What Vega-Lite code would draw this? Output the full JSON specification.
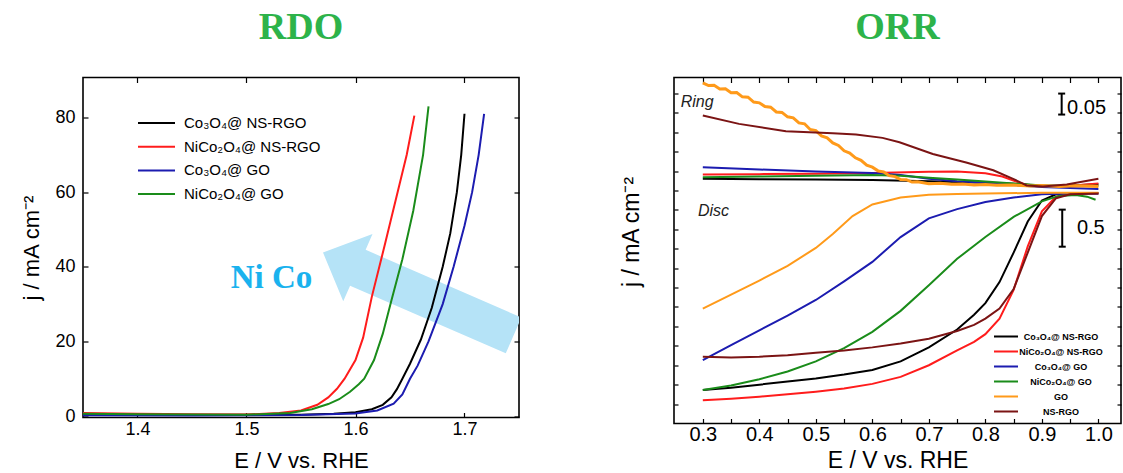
{
  "$schema": "https://vega.github.io/schema/vega-lite/v6.json",
  "background": "white",
  "padding": {"left": 20, "top": 7.5, "right": 0, "bottom": 0},
  "spacing": 98,
  "config": {
    "font": "Liberation Sans",
    "view": {"stroke": "black", "strokeWidth": 1.6},
    "axis": {"domain": false, "grid": false, "tickColor": "black", "tickWidth": 1.2, "labelColor": "black", "titleColor": "black", "labelFont": "Liberation Sans", "titleFont": "Liberation Sans", "titleFontWeight": "normal"},
    "title": {"font": "Liberation Serif", "fontWeight": "bold", "fontSize": 38, "color": "#2db34a", "anchor": "middle", "baseline": "alphabetic"}
  },
  "resolve": {"scale": {"color": "independent"}, "legend": {"color": "independent"}},
  "hconcat": [
    {
      "width": 436,
      "height": 340,
      "title": {"text": "RDO", "offset": 30},
      "resolve": {"axis": {"x": "independent", "y": "independent"}},
      "layer": [
        {
          "data": {"values": [{"x": 1.6576, "y": 32.7}]},
          "mark": {"type": "point", "shape": "M-1,0L-0.634,-0.353L-0.634,-0.188L1,-0.188L1,0.188L-0.634,0.188L-0.634,0.353Z", "size": 43181, "angle": 23.5, "filled": true, "fill": "#b5e3f7", "opacity": 1, "strokeWidth": 0, "clip": true},
          "encoding": {
            "x": {"field": "x", "type": "quantitative", "scale": {"domain": [1.35, 1.75], "nice": false, "zero": false}, "axis": {"orient": "top", "values": [1.4, 1.5, 1.6, 1.7], "labels": false, "tickSize": -5, "title": null}},
            "y": {"field": "y", "type": "quantitative", "scale": {"domain": [-0.4, 90.72], "nice": false, "zero": false}, "axis": {"orient": "right", "values": [0, 20, 40, 60, 80], "labels": false, "tickSize": -5, "title": null}}
          }
        },
        {
          "data": {"values": [
            {"s": "Co₃O₄@ NS-RGO", "x": 1.35, "y": 0.3}, {"s": "Co₃O₄@ NS-RGO", "x": 1.45, "y": 0.25}, {"s": "Co₃O₄@ NS-RGO", "x": 1.55, "y": 0.35}, {"s": "Co₃O₄@ NS-RGO", "x": 1.58, "y": 0.6}, {"s": "Co₃O₄@ NS-RGO", "x": 1.6, "y": 1.0}, {"s": "Co₃O₄@ NS-RGO", "x": 1.615, "y": 1.8}, {"s": "Co₃O₄@ NS-RGO", "x": 1.625, "y": 3.0}, {"s": "Co₃O₄@ NS-RGO", "x": 1.633, "y": 5.0}, {"s": "Co₃O₄@ NS-RGO", "x": 1.638, "y": 7.2}, {"s": "Co₃O₄@ NS-RGO", "x": 1.643, "y": 10}, {"s": "Co₃O₄@ NS-RGO", "x": 1.65, "y": 14}, {"s": "Co₃O₄@ NS-RGO", "x": 1.66, "y": 20.5}, {"s": "Co₃O₄@ NS-RGO", "x": 1.67, "y": 29}, {"s": "Co₃O₄@ NS-RGO", "x": 1.68, "y": 40}, {"s": "Co₃O₄@ NS-RGO", "x": 1.687, "y": 49}, {"s": "Co₃O₄@ NS-RGO", "x": 1.693, "y": 60}, {"s": "Co₃O₄@ NS-RGO", "x": 1.697, "y": 70}, {"s": "Co₃O₄@ NS-RGO", "x": 1.7, "y": 81},
            {"s": "NiCo₂O₄@ NS-RGO", "x": 1.35, "y": 0.8}, {"s": "NiCo₂O₄@ NS-RGO", "x": 1.4, "y": 0.6}, {"s": "NiCo₂O₄@ NS-RGO", "x": 1.45, "y": 0.5}, {"s": "NiCo₂O₄@ NS-RGO", "x": 1.5, "y": 0.4}, {"s": "NiCo₂O₄@ NS-RGO", "x": 1.53, "y": 0.8}, {"s": "NiCo₂O₄@ NS-RGO", "x": 1.55, "y": 1.5}, {"s": "NiCo₂O₄@ NS-RGO", "x": 1.565, "y": 3.0}, {"s": "NiCo₂O₄@ NS-RGO", "x": 1.575, "y": 5.0}, {"s": "NiCo₂O₄@ NS-RGO", "x": 1.583, "y": 7.3}, {"s": "NiCo₂O₄@ NS-RGO", "x": 1.59, "y": 10}, {"s": "NiCo₂O₄@ NS-RGO", "x": 1.6, "y": 15}, {"s": "NiCo₂O₄@ NS-RGO", "x": 1.607, "y": 21}, {"s": "NiCo₂O₄@ NS-RGO", "x": 1.615, "y": 32}, {"s": "NiCo₂O₄@ NS-RGO", "x": 1.627, "y": 46}, {"s": "NiCo₂O₄@ NS-RGO", "x": 1.637, "y": 58}, {"s": "NiCo₂O₄@ NS-RGO", "x": 1.647, "y": 70}, {"s": "NiCo₂O₄@ NS-RGO", "x": 1.654, "y": 80.5},
            {"s": "Co₃O₄@ GO", "x": 1.35, "y": 0.2}, {"s": "Co₃O₄@ GO", "x": 1.45, "y": 0.15}, {"s": "Co₃O₄@ GO", "x": 1.55, "y": 0.25}, {"s": "Co₃O₄@ GO", "x": 1.6, "y": 0.7}, {"s": "Co₃O₄@ GO", "x": 1.62, "y": 1.5}, {"s": "Co₃O₄@ GO", "x": 1.635, "y": 3.3}, {"s": "Co₃O₄@ GO", "x": 1.643, "y": 5.8}, {"s": "Co₃O₄@ GO", "x": 1.65, "y": 10}, {"s": "Co₃O₄@ GO", "x": 1.657, "y": 13.5}, {"s": "Co₃O₄@ GO", "x": 1.667, "y": 20}, {"s": "Co₃O₄@ GO", "x": 1.68, "y": 30}, {"s": "Co₃O₄@ GO", "x": 1.69, "y": 40}, {"s": "Co₃O₄@ GO", "x": 1.7, "y": 51}, {"s": "Co₃O₄@ GO", "x": 1.707, "y": 60}, {"s": "Co₃O₄@ GO", "x": 1.713, "y": 70}, {"s": "Co₃O₄@ GO", "x": 1.718, "y": 81},
            {"s": "NiCo₂O₄@ GO", "x": 1.35, "y": 0.6}, {"s": "NiCo₂O₄@ GO", "x": 1.4, "y": 0.5}, {"s": "NiCo₂O₄@ GO", "x": 1.45, "y": 0.4}, {"s": "NiCo₂O₄@ GO", "x": 1.5, "y": 0.35}, {"s": "NiCo₂O₄@ GO", "x": 1.54, "y": 0.8}, {"s": "NiCo₂O₄@ GO", "x": 1.56, "y": 1.8}, {"s": "NiCo₂O₄@ GO", "x": 1.575, "y": 3.2}, {"s": "NiCo₂O₄@ GO", "x": 1.585, "y": 4.5}, {"s": "NiCo₂O₄@ GO", "x": 1.595, "y": 6.5}, {"s": "NiCo₂O₄@ GO", "x": 1.603, "y": 8.5}, {"s": "NiCo₂O₄@ GO", "x": 1.608, "y": 10}, {"s": "NiCo₂O₄@ GO", "x": 1.617, "y": 15}, {"s": "NiCo₂O₄@ GO", "x": 1.625, "y": 22}, {"s": "NiCo₂O₄@ GO", "x": 1.633, "y": 31}, {"s": "NiCo₂O₄@ GO", "x": 1.643, "y": 42}, {"s": "NiCo₂O₄@ GO", "x": 1.653, "y": 55}, {"s": "NiCo₂O₄@ GO", "x": 1.662, "y": 70}, {"s": "NiCo₂O₄@ GO", "x": 1.667, "y": 83}
          ]},
          "mark": {"type": "line", "strokeWidth": 2, "clip": true},
          "encoding": {
            "x": {"field": "x", "type": "quantitative", "axis": {"orient": "bottom", "values": [1.4, 1.5, 1.6, 1.7], "format": ".1f", "labelFontSize": 18, "tickSize": -5, "labelPadding": 7.5, "title": "E / V vs. RHE", "titleFontSize": 22, "titlePadding": 12}},
            "y": {"field": "y", "type": "quantitative", "axis": {"orient": "left", "values": [0, 20, 40, 60, 80], "labelFontSize": 18, "tickSize": -5, "labelPadding": 13, "title": "j / mA cm⁻²", "titleFontSize": 22, "titlePadding": 11}},
            "color": {"field": "s", "type": "nominal", "scale": {"domain": ["Co₃O₄@ NS-RGO", "NiCo₂O₄@ NS-RGO", "Co₃O₄@ GO", "NiCo₂O₄@ GO"], "range": ["#000000", "#ff1c1c", "#1c1cb0", "#1a8c1a"]},
              "legend": {"orient": "none", "legendX": 54, "legendY": 37.5, "title": null, "padding": 0, "labelFontSize": 15, "symbolType": "stroke", "symbolSize": 1369, "symbolStrokeWidth": 2, "clipHeight": 16, "rowPadding": 7.7, "labelOffset": 8, "labelExpr": "indexof(datum.label, 'Ni') == 0 ? datum.label : (indexof(datum.label, 'NS') > 0 ? '\u2002\u2002' + datum.label : '\u2002\u2002\u2009' + datum.label)"}}
          }
        },
        {
          "mark": {"type": "rule", "color": "black", "strokeWidth": 1, "strokeDash": [2, 2]},
          "encoding": {"y": {"datum": 10, "type": "quantitative", "axis": null}}
        },
        {
          "data": {"values": [{"x": 1.523, "y": 34.4, "t": "Ni Co"}]},
          "mark": {"type": "text", "font": "Liberation Serif", "fontWeight": "bold", "fontSize": 33, "color": "#1ab2ee", "align": "center", "baseline": "alphabetic"},
          "encoding": {
            "x": {"field": "x", "type": "quantitative", "axis": null},
            "y": {"field": "y", "type": "quantitative", "axis": null},
            "text": {"field": "t"}
          }
        }
      ]
    },
    {
      "width": 447,
      "height": 346,
      "title": {"text": "ORR", "offset": 30},
      "resolve": {"axis": {"x": "independent", "y": "independent"}},
      "layer": [
        {
          "data": {"values": [
            {"s": "Co₃O₄@ NS-RGO", "p": "disc", "x": 0.3, "y": -2.57}, {"s": "Co₃O₄@ NS-RGO", "p": "disc", "x": 0.35, "y": -2.54}, {"s": "Co₃O₄@ NS-RGO", "p": "disc", "x": 0.4, "y": -2.5}, {"s": "Co₃O₄@ NS-RGO", "p": "disc", "x": 0.45, "y": -2.46}, {"s": "Co₃O₄@ NS-RGO", "p": "disc", "x": 0.5, "y": -2.42}, {"s": "Co₃O₄@ NS-RGO", "p": "disc", "x": 0.55, "y": -2.37}, {"s": "Co₃O₄@ NS-RGO", "p": "disc", "x": 0.6, "y": -2.31}, {"s": "Co₃O₄@ NS-RGO", "p": "disc", "x": 0.65, "y": -2.2}, {"s": "Co₃O₄@ NS-RGO", "p": "disc", "x": 0.7, "y": -2.02}, {"s": "Co₃O₄@ NS-RGO", "p": "disc", "x": 0.75, "y": -1.79}, {"s": "Co₃O₄@ NS-RGO", "p": "disc", "x": 0.78, "y": -1.6}, {"s": "Co₃O₄@ NS-RGO", "p": "disc", "x": 0.8, "y": -1.45}, {"s": "Co₃O₄@ NS-RGO", "p": "disc", "x": 0.825, "y": -1.18}, {"s": "Co₃O₄@ NS-RGO", "p": "disc", "x": 0.85, "y": -0.8}, {"s": "Co₃O₄@ NS-RGO", "p": "disc", "x": 0.875, "y": -0.4}, {"s": "Co₃O₄@ NS-RGO", "p": "disc", "x": 0.9, "y": -0.13}, {"s": "Co₃O₄@ NS-RGO", "p": "disc", "x": 0.925, "y": -0.05}, {"s": "Co₃O₄@ NS-RGO", "p": "disc", "x": 0.95, "y": -0.035}, {"s": "Co₃O₄@ NS-RGO", "p": "disc", "x": 1.0, "y": -0.035},
            {"s": "NiCo₂O₄@ NS-RGO", "p": "disc", "x": 0.3, "y": -2.7}, {"s": "NiCo₂O₄@ NS-RGO", "p": "disc", "x": 0.35, "y": -2.68}, {"s": "NiCo₂O₄@ NS-RGO", "p": "disc", "x": 0.4, "y": -2.655}, {"s": "NiCo₂O₄@ NS-RGO", "p": "disc", "x": 0.45, "y": -2.625}, {"s": "NiCo₂O₄@ NS-RGO", "p": "disc", "x": 0.5, "y": -2.59}, {"s": "NiCo₂O₄@ NS-RGO", "p": "disc", "x": 0.55, "y": -2.55}, {"s": "NiCo₂O₄@ NS-RGO", "p": "disc", "x": 0.6, "y": -2.49}, {"s": "NiCo₂O₄@ NS-RGO", "p": "disc", "x": 0.65, "y": -2.4}, {"s": "NiCo₂O₄@ NS-RGO", "p": "disc", "x": 0.7, "y": -2.25}, {"s": "NiCo₂O₄@ NS-RGO", "p": "disc", "x": 0.75, "y": -2.06}, {"s": "NiCo₂O₄@ NS-RGO", "p": "disc", "x": 0.78, "y": -1.95}, {"s": "NiCo₂O₄@ NS-RGO", "p": "disc", "x": 0.8, "y": -1.85}, {"s": "NiCo₂O₄@ NS-RGO", "p": "disc", "x": 0.825, "y": -1.65}, {"s": "NiCo₂O₄@ NS-RGO", "p": "disc", "x": 0.85, "y": -1.28}, {"s": "NiCo₂O₄@ NS-RGO", "p": "disc", "x": 0.875, "y": -0.72}, {"s": "NiCo₂O₄@ NS-RGO", "p": "disc", "x": 0.9, "y": -0.27}, {"s": "NiCo₂O₄@ NS-RGO", "p": "disc", "x": 0.925, "y": -0.08}, {"s": "NiCo₂O₄@ NS-RGO", "p": "disc", "x": 0.95, "y": -0.04}, {"s": "NiCo₂O₄@ NS-RGO", "p": "disc", "x": 1.0, "y": -0.035},
            {"s": "Co₃O₄@ GO", "p": "disc", "x": 0.3, "y": -2.185}, {"s": "Co₃O₄@ GO", "p": "disc", "x": 0.35, "y": -1.99}, {"s": "Co₃O₄@ GO", "p": "disc", "x": 0.4, "y": -1.8}, {"s": "Co₃O₄@ GO", "p": "disc", "x": 0.45, "y": -1.61}, {"s": "Co₃O₄@ GO", "p": "disc", "x": 0.5, "y": -1.41}, {"s": "Co₃O₄@ GO", "p": "disc", "x": 0.55, "y": -1.17}, {"s": "Co₃O₄@ GO", "p": "disc", "x": 0.6, "y": -0.92}, {"s": "Co₃O₄@ GO", "p": "disc", "x": 0.65, "y": -0.6}, {"s": "Co₃O₄@ GO", "p": "disc", "x": 0.7, "y": -0.36}, {"s": "Co₃O₄@ GO", "p": "disc", "x": 0.75, "y": -0.24}, {"s": "Co₃O₄@ GO", "p": "disc", "x": 0.8, "y": -0.15}, {"s": "Co₃O₄@ GO", "p": "disc", "x": 0.85, "y": -0.09}, {"s": "Co₃O₄@ GO", "p": "disc", "x": 0.9, "y": -0.05}, {"s": "Co₃O₄@ GO", "p": "disc", "x": 0.95, "y": -0.04}, {"s": "Co₃O₄@ GO", "p": "disc", "x": 1.0, "y": -0.04},
            {"s": "NiCo₂O₄@ GO", "p": "disc", "x": 0.3, "y": -2.57}, {"s": "NiCo₂O₄@ GO", "p": "disc", "x": 0.35, "y": -2.51}, {"s": "NiCo₂O₄@ GO", "p": "disc", "x": 0.4, "y": -2.43}, {"s": "NiCo₂O₄@ GO", "p": "disc", "x": 0.45, "y": -2.33}, {"s": "NiCo₂O₄@ GO", "p": "disc", "x": 0.5, "y": -2.2}, {"s": "NiCo₂O₄@ GO", "p": "disc", "x": 0.55, "y": -2.03}, {"s": "NiCo₂O₄@ GO", "p": "disc", "x": 0.6, "y": -1.82}, {"s": "NiCo₂O₄@ GO", "p": "disc", "x": 0.65, "y": -1.55}, {"s": "NiCo₂O₄@ GO", "p": "disc", "x": 0.7, "y": -1.22}, {"s": "NiCo₂O₄@ GO", "p": "disc", "x": 0.75, "y": -0.88}, {"s": "NiCo₂O₄@ GO", "p": "disc", "x": 0.8, "y": -0.6}, {"s": "NiCo₂O₄@ GO", "p": "disc", "x": 0.85, "y": -0.34}, {"s": "NiCo₂O₄@ GO", "p": "disc", "x": 0.9, "y": -0.14}, {"s": "NiCo₂O₄@ GO", "p": "disc", "x": 0.93, "y": -0.07}, {"s": "NiCo₂O₄@ GO", "p": "disc", "x": 0.96, "y": -0.06}, {"s": "NiCo₂O₄@ GO", "p": "disc", "x": 0.98, "y": -0.08}, {"s": "NiCo₂O₄@ GO", "p": "disc", "x": 0.995, "y": -0.12},
            {"s": "GO", "p": "disc", "x": 0.3, "y": -1.52}, {"s": "GO", "p": "disc", "x": 0.35, "y": -1.34}, {"s": "GO", "p": "disc", "x": 0.4, "y": -1.16}, {"s": "GO", "p": "disc", "x": 0.45, "y": -0.97}, {"s": "GO", "p": "disc", "x": 0.5, "y": -0.74}, {"s": "GO", "p": "disc", "x": 0.53, "y": -0.56}, {"s": "GO", "p": "disc", "x": 0.565, "y": -0.33}, {"s": "GO", "p": "disc", "x": 0.6, "y": -0.18}, {"s": "GO", "p": "disc", "x": 0.65, "y": -0.09}, {"s": "GO", "p": "disc", "x": 0.7, "y": -0.055}, {"s": "GO", "p": "disc", "x": 0.75, "y": -0.045}, {"s": "GO", "p": "disc", "x": 0.8, "y": -0.04}, {"s": "GO", "p": "disc", "x": 0.9, "y": -0.03}, {"s": "GO", "p": "disc", "x": 1.0, "y": -0.03},
            {"s": "NS-RGO", "p": "disc", "x": 0.3, "y": -2.14}, {"s": "NS-RGO", "p": "disc", "x": 0.35, "y": -2.15}, {"s": "NS-RGO", "p": "disc", "x": 0.4, "y": -2.14}, {"s": "NS-RGO", "p": "disc", "x": 0.45, "y": -2.12}, {"s": "NS-RGO", "p": "disc", "x": 0.5, "y": -2.09}, {"s": "NS-RGO", "p": "disc", "x": 0.55, "y": -2.06}, {"s": "NS-RGO", "p": "disc", "x": 0.6, "y": -2.02}, {"s": "NS-RGO", "p": "disc", "x": 0.65, "y": -1.97}, {"s": "NS-RGO", "p": "disc", "x": 0.7, "y": -1.91}, {"s": "NS-RGO", "p": "disc", "x": 0.75, "y": -1.81}, {"s": "NS-RGO", "p": "disc", "x": 0.78, "y": -1.73}, {"s": "NS-RGO", "p": "disc", "x": 0.8, "y": -1.65}, {"s": "NS-RGO", "p": "disc", "x": 0.825, "y": -1.52}, {"s": "NS-RGO", "p": "disc", "x": 0.85, "y": -1.27}, {"s": "NS-RGO", "p": "disc", "x": 0.875, "y": -0.8}, {"s": "NS-RGO", "p": "disc", "x": 0.9, "y": -0.33}, {"s": "NS-RGO", "p": "disc", "x": 0.925, "y": -0.1}, {"s": "NS-RGO", "p": "disc", "x": 0.95, "y": -0.05}, {"s": "NS-RGO", "p": "disc", "x": 1.0, "y": -0.04},
            {"s": "Co₃O₄@ NS-RGO", "p": "ring", "x": 0.3, "y": 0.15}, {"s": "Co₃O₄@ NS-RGO", "p": "ring", "x": 0.4, "y": 0.145}, {"s": "Co₃O₄@ NS-RGO", "p": "ring", "x": 0.5, "y": 0.14}, {"s": "Co₃O₄@ NS-RGO", "p": "ring", "x": 0.6, "y": 0.135}, {"s": "Co₃O₄@ NS-RGO", "p": "ring", "x": 0.7, "y": 0.12}, {"s": "Co₃O₄@ NS-RGO", "p": "ring", "x": 0.8, "y": 0.1}, {"s": "Co₃O₄@ NS-RGO", "p": "ring", "x": 0.85, "y": 0.085}, {"s": "Co₃O₄@ NS-RGO", "p": "ring", "x": 0.9, "y": 0.06}, {"s": "Co₃O₄@ NS-RGO", "p": "ring", "x": 0.95, "y": 0.065}, {"s": "Co₃O₄@ NS-RGO", "p": "ring", "x": 1.0, "y": 0.08},
            {"s": "NiCo₂O₄@ NS-RGO", "p": "ring", "x": 0.3, "y": 0.205}, {"s": "NiCo₂O₄@ NS-RGO", "p": "ring", "x": 0.4, "y": 0.21}, {"s": "NiCo₂O₄@ NS-RGO", "p": "ring", "x": 0.5, "y": 0.215}, {"s": "NiCo₂O₄@ NS-RGO", "p": "ring", "x": 0.6, "y": 0.225}, {"s": "NiCo₂O₄@ NS-RGO", "p": "ring", "x": 0.7, "y": 0.24}, {"s": "NiCo₂O₄@ NS-RGO", "p": "ring", "x": 0.75, "y": 0.245}, {"s": "NiCo₂O₄@ NS-RGO", "p": "ring", "x": 0.8, "y": 0.22}, {"s": "NiCo₂O₄@ NS-RGO", "p": "ring", "x": 0.83, "y": 0.18}, {"s": "NiCo₂O₄@ NS-RGO", "p": "ring", "x": 0.86, "y": 0.1}, {"s": "NiCo₂O₄@ NS-RGO", "p": "ring", "x": 0.88, "y": 0.06}, {"s": "NiCo₂O₄@ NS-RGO", "p": "ring", "x": 0.9, "y": 0.05}, {"s": "NiCo₂O₄@ NS-RGO", "p": "ring", "x": 0.95, "y": 0.06}, {"s": "NiCo₂O₄@ NS-RGO", "p": "ring", "x": 1.0, "y": 0.09},
            {"s": "Co₃O₄@ GO", "p": "ring", "x": 0.3, "y": 0.3}, {"s": "Co₃O₄@ GO", "p": "ring", "x": 0.4, "y": 0.27}, {"s": "Co₃O₄@ GO", "p": "ring", "x": 0.5, "y": 0.245}, {"s": "Co₃O₄@ GO", "p": "ring", "x": 0.6, "y": 0.225}, {"s": "Co₃O₄@ GO", "p": "ring", "x": 0.65, "y": 0.2}, {"s": "Co₃O₄@ GO", "p": "ring", "x": 0.7, "y": 0.15}, {"s": "Co₃O₄@ GO", "p": "ring", "x": 0.75, "y": 0.12}, {"s": "Co₃O₄@ GO", "p": "ring", "x": 0.8, "y": 0.1}, {"s": "Co₃O₄@ GO", "p": "ring", "x": 0.85, "y": 0.07}, {"s": "Co₃O₄@ GO", "p": "ring", "x": 0.9, "y": 0.045}, {"s": "Co₃O₄@ GO", "p": "ring", "x": 0.95, "y": 0.03}, {"s": "Co₃O₄@ GO", "p": "ring", "x": 1.0, "y": 0.02},
            {"s": "NiCo₂O₄@ GO", "p": "ring", "x": 0.3, "y": 0.17}, {"s": "NiCo₂O₄@ GO", "p": "ring", "x": 0.4, "y": 0.18}, {"s": "NiCo₂O₄@ GO", "p": "ring", "x": 0.5, "y": 0.19}, {"s": "NiCo₂O₄@ GO", "p": "ring", "x": 0.6, "y": 0.2}, {"s": "NiCo₂O₄@ GO", "p": "ring", "x": 0.65, "y": 0.19}, {"s": "NiCo₂O₄@ GO", "p": "ring", "x": 0.7, "y": 0.165}, {"s": "NiCo₂O₄@ GO", "p": "ring", "x": 0.75, "y": 0.14}, {"s": "NiCo₂O₄@ GO", "p": "ring", "x": 0.8, "y": 0.115}, {"s": "NiCo₂O₄@ GO", "p": "ring", "x": 0.85, "y": 0.09}, {"s": "NiCo₂O₄@ GO", "p": "ring", "x": 0.9, "y": 0.065}, {"s": "NiCo₂O₄@ GO", "p": "ring", "x": 0.95, "y": 0.06}, {"s": "NiCo₂O₄@ GO", "p": "ring", "x": 1.0, "y": 0.06},
            {"s": "GO", "p": "ring", "x": 0.3, "y": 1.385}, {"s": "GO", "p": "ring", "x": 0.31, "y": 1.35}, {"s": "GO", "p": "ring", "x": 0.32, "y": 1.355}, {"s": "GO", "p": "ring", "x": 0.33, "y": 1.305}, {"s": "GO", "p": "ring", "x": 0.34, "y": 1.31}, {"s": "GO", "p": "ring", "x": 0.35, "y": 1.258}, {"s": "GO", "p": "ring", "x": 0.36, "y": 1.26}, {"s": "GO", "p": "ring", "x": 0.37, "y": 1.205}, {"s": "GO", "p": "ring", "x": 0.38, "y": 1.2}, {"s": "GO", "p": "ring", "x": 0.39, "y": 1.138}, {"s": "GO", "p": "ring", "x": 0.4, "y": 1.128}, {"s": "GO", "p": "ring", "x": 0.41, "y": 1.08}, {"s": "GO", "p": "ring", "x": 0.42, "y": 1.072}, {"s": "GO", "p": "ring", "x": 0.43, "y": 1.01}, {"s": "GO", "p": "ring", "x": 0.44, "y": 1.005}, {"s": "GO", "p": "ring", "x": 0.45, "y": 0.948}, {"s": "GO", "p": "ring", "x": 0.46, "y": 0.935}, {"s": "GO", "p": "ring", "x": 0.47, "y": 0.87}, {"s": "GO", "p": "ring", "x": 0.48, "y": 0.858}, {"s": "GO", "p": "ring", "x": 0.49, "y": 0.785}, {"s": "GO", "p": "ring", "x": 0.5, "y": 0.77}, {"s": "GO", "p": "ring", "x": 0.51, "y": 0.702}, {"s": "GO", "p": "ring", "x": 0.52, "y": 0.678}, {"s": "GO", "p": "ring", "x": 0.53, "y": 0.612}, {"s": "GO", "p": "ring", "x": 0.54, "y": 0.58}, {"s": "GO", "p": "ring", "x": 0.55, "y": 0.51}, {"s": "GO", "p": "ring", "x": 0.56, "y": 0.482}, {"s": "GO", "p": "ring", "x": 0.57, "y": 0.42}, {"s": "GO", "p": "ring", "x": 0.58, "y": 0.388}, {"s": "GO", "p": "ring", "x": 0.59, "y": 0.325}, {"s": "GO", "p": "ring", "x": 0.6, "y": 0.3}, {"s": "GO", "p": "ring", "x": 0.61, "y": 0.252}, {"s": "GO", "p": "ring", "x": 0.62, "y": 0.238}, {"s": "GO", "p": "ring", "x": 0.63, "y": 0.19}, {"s": "GO", "p": "ring", "x": 0.64, "y": 0.178}, {"s": "GO", "p": "ring", "x": 0.65, "y": 0.14}, {"s": "GO", "p": "ring", "x": 0.66, "y": 0.138}, {"s": "GO", "p": "ring", "x": 0.67, "y": 0.108}, {"s": "GO", "p": "ring", "x": 0.68, "y": 0.112}, {"s": "GO", "p": "ring", "x": 0.7, "y": 0.085}, {"s": "GO", "p": "ring", "x": 0.72, "y": 0.092}, {"s": "GO", "p": "ring", "x": 0.74, "y": 0.08}, {"s": "GO", "p": "ring", "x": 0.76, "y": 0.084}, {"s": "GO", "p": "ring", "x": 0.78, "y": 0.07}, {"s": "GO", "p": "ring", "x": 0.8, "y": 0.078}, {"s": "GO", "p": "ring", "x": 0.82, "y": 0.066}, {"s": "GO", "p": "ring", "x": 0.85, "y": 0.07}, {"s": "GO", "p": "ring", "x": 0.88, "y": 0.058}, {"s": "GO", "p": "ring", "x": 0.9, "y": 0.064}, {"s": "GO", "p": "ring", "x": 0.93, "y": 0.052}, {"s": "GO", "p": "ring", "x": 0.96, "y": 0.06}, {"s": "GO", "p": "ring", "x": 1.0, "y": 0.052},
            {"s": "NS-RGO", "p": "ring", "x": 0.3, "y": 0.964}, {"s": "NS-RGO", "p": "ring", "x": 0.364, "y": 0.857}, {"s": "NS-RGO", "p": "ring", "x": 0.447, "y": 0.763}, {"s": "NS-RGO", "p": "ring", "x": 0.53, "y": 0.737}, {"s": "NS-RGO", "p": "ring", "x": 0.571, "y": 0.72}, {"s": "NS-RGO", "p": "ring", "x": 0.618, "y": 0.677}, {"s": "NS-RGO", "p": "ring", "x": 0.648, "y": 0.621}, {"s": "NS-RGO", "p": "ring", "x": 0.707, "y": 0.47}, {"s": "NS-RGO", "p": "ring", "x": 0.766, "y": 0.36}, {"s": "NS-RGO", "p": "ring", "x": 0.814, "y": 0.26}, {"s": "NS-RGO", "p": "ring", "x": 0.849, "y": 0.15}, {"s": "NS-RGO", "p": "ring", "x": 0.873, "y": 0.064}, {"s": "NS-RGO", "p": "ring", "x": 0.902, "y": 0.051}, {"s": "NS-RGO", "p": "ring", "x": 0.944, "y": 0.077}, {"s": "NS-RGO", "p": "ring", "x": 1.0, "y": 0.15}
          ]},
          "mark": {"type": "line", "clip": true},
          "encoding": {
            "x": {"field": "x", "type": "quantitative", "scale": {"domain": [0.249, 1.04], "nice": false, "zero": false},
              "axis": {"orient": "bottom", "values": [0.3, 0.35, 0.4, 0.45, 0.5, 0.55, 0.6, 0.65, 0.7, 0.75, 0.8, 0.85, 0.9, 0.95, 1.0], "labelExpr": "round(datum.value * 100) % 10 == 0 ? format(datum.value, '.1f') : ''", "labelFontSize": 20, "tickSize": -5, "labelPadding": 6.2, "title": "E / V vs. RHE", "titleFontSize": 23, "titlePadding": 4.5}},
            "y": {"field": "y", "type": "quantitative", "scale": {"domain": [-3, 1.454], "nice": false, "zero": false},
              "axis": {"orient": "left", "values": [-2.75, -2.5, -2.25, -2, -1.75, -1.5, -1.25, -1, -0.75, -0.5, -0.25, 0, 0.25, 0.5, 0.75, 1, 1.25], "labels": false, "tickSize": -4, "title": "j / mA cm⁻²", "titleFontSize": 23, "titlePadding": 30, "titleY": 154}},
            "color": {"field": "s", "type": "nominal", "scale": {"domain": ["Co₃O₄@ NS-RGO", "NiCo₂O₄@ NS-RGO", "Co₃O₄@ GO", "NiCo₂O₄@ GO", "GO", "NS-RGO"], "range": ["#000000", "#ff1c1c", "#1c1cb0", "#1a8c1a", "#ff9a1a", "#7b1414"]},
              "legend": {"orient": "none", "legendX": 319, "legendY": 252.5, "title": null, "padding": 0, "labelFontSize": 9, "labelFontWeight": "bold", "labelAlign": "center", "labelOffset": 42, "symbolType": "stroke", "symbolSize": 576, "symbolStrokeWidth": 2, "clipHeight": 13, "rowPadding": 2}},
            "strokeWidth": {"condition": {"test": "datum.s == 'GO' && datum.p == 'ring'", "value": 3}, "value": 2},
            "detail": {"field": "p"}
          }
        },
        {
          "data": {"values": [{"x": 0.935, "y": 1.247, "y2": 0.977}, {"x": 0.936, "y": -0.247, "y2": -0.724}]},
          "mark": {"type": "rule", "color": "black", "strokeWidth": 2},
          "encoding": {
            "x": {"field": "x", "type": "quantitative", "axis": {"orient": "top", "values": [0.3, 0.35, 0.4, 0.45, 0.5, 0.55, 0.6, 0.65, 0.7, 0.75, 0.8, 0.85, 0.9, 0.95, 1.0], "labels": false, "tickSize": -5, "title": null}},
            "y": {"field": "y", "type": "quantitative", "axis": {"orient": "right", "values": [-2.75, -2.5, -2.25, -2, -1.75, -1.5, -1.25, -1, -0.75, -0.5, -0.25, 0, 0.25, 0.5, 0.75, 1, 1.25], "labels": false, "tickSize": -4, "title": null}},
            "y2": {"field": "y2"}
          }
        },
        {
          "data": {"values": [{"x": 0.935, "y": 1.247}, {"x": 0.935, "y": 0.977}, {"x": 0.936, "y": -0.247}, {"x": 0.936, "y": -0.724}]},
          "mark": {"type": "point", "shape": "stroke", "size": 49, "filled": false, "color": "black", "strokeWidth": 2, "opacity": 1},
          "encoding": {
            "x": {"field": "x", "type": "quantitative", "axis": null},
            "y": {"field": "y", "type": "quantitative", "axis": null}
          }
        },
        {
          "mark": {"type": "rule", "color": "black", "strokeWidth": 1.5, "strokeDash": [2, 2]},
          "encoding": {"y": {"datum": 0, "type": "quantitative", "axis": null}}
        },
        {
          "data": {"values": [{"x": 0.29, "y": 1.145, "t": "Ring"}, {"x": 0.319, "y": -0.26, "t": "Disc"}]},
          "mark": {"type": "text", "fontSize": 16, "fontStyle": "italic", "color": "#222222", "align": "center", "baseline": "middle"},
          "encoding": {
            "x": {"field": "x", "type": "quantitative", "axis": null},
            "y": {"field": "y", "type": "quantitative", "axis": null},
            "text": {"field": "t"}
          }
        },
        {
          "data": {"values": [{"x": 0.9446, "y": 1.067, "t": "0.05"}, {"x": 0.962, "y": -0.48, "t": "0.5"}]},
          "mark": {"type": "text", "fontSize": 20, "color": "black", "align": "left", "baseline": "middle"},
          "encoding": {
            "x": {"field": "x", "type": "quantitative", "axis": null},
            "y": {"field": "y", "type": "quantitative", "axis": null},
            "text": {"field": "t"}
          }
        }
      ]
    }
  ]
}
